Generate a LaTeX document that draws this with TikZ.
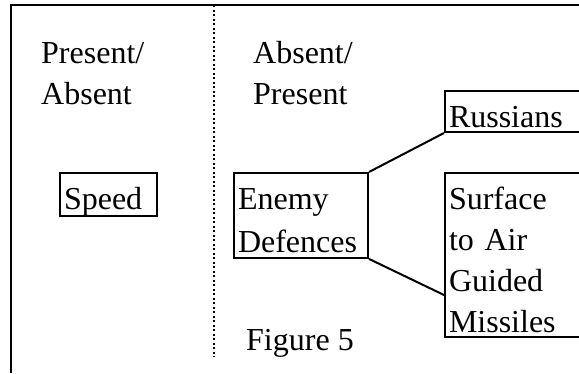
\documentclass[tikz,border=0pt]{standalone}
\usepackage{fontspec}
\setmainfont{Liberation Serif}
\usetikzlibrary{positioning}
% one line of text: 36pt above the baseline, 5pt below
\newcommand{\ls}{\rule[-5pt]{0pt}{41pt}}

\begin{document}
\begin{tikzpicture}[
    x=1pt, y=-1pt,
    every node/.style={font=\fontsize{32}{41}\selectfont},
    heading/.style={anchor=north west, inner sep=0pt, align=left},
    box/.style={draw, line width=2pt, anchor=north west, inner xsep=4pt, inner ysep=0pt, align=left},
    link/.style={line width=2pt}
  ]
    \useasboundingbox (0,0) rectangle (579,373);

    % Frame
    \draw[line width=2pt] (11,373) -- (11,5) -- (579,5);
    \draw[line width=2pt, dash pattern=on 2pt off 2.5pt] (214,5) -- (214,357);

    % Headings
    \node[heading] (hleft) at (41,27) {\ls Present/\\\ls Absent};
    \node[heading] (hright) at (253,27) {\ls Absent/\\\ls Present};

    % Boxes
    \node[box, text width=89pt] (speed) at (59,172) {\ls Speed};
    \node[box, text width=126pt] (enemy) at (233,172) {\ls Enemy\\\ls Defences};
    \node[box, text width=127pt] (rus) at (444,90) {\ls Russians};
    \node[box, text width=127pt] (sam) at (444,172) {\ls Surface\\\ls to Air\\\ls Guided\\\ls Missiles};

    % Connections
    \draw[link] (enemy.north east) -- (rus.south west);
    \draw[link] (enemy.south east) -- ([yshift=-40pt]sam.west);

    % Caption
    \node[heading] (cap) at (246,314) {\ls Figure 5};
  \end{tikzpicture}
\end{document}
